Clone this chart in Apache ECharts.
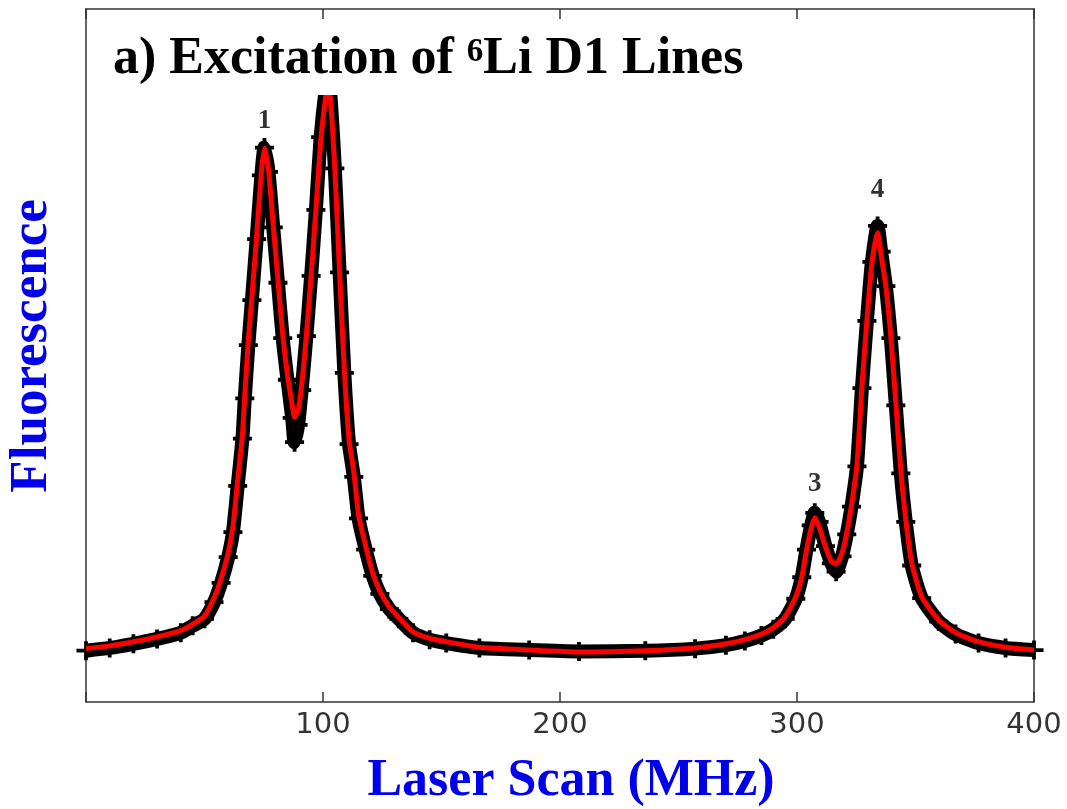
<!DOCTYPE html>
<html>
<head>
<meta charset="utf-8">
<script src="https://cdn.jsdelivr.net/npm/echarts@6/dist/echarts.min.js"></script>
<style>
  html, body { margin: 0; padding: 0; background: #fff; }
  #main { width: 1067px; height: 809px; }
</style>
</head>
<body>
<div id="main"></div>
<script>
// laser scan positions (MHz)
var scanX = [0, 10, 20, 30, 40, 45, 50, 54, 57, 60,
    62, 64, 66, 67, 68.5, 70, 72, 74, 75.3, 77,
    79, 81, 83, 85, 87, 88, 89.5, 91, 93, 95,
    97, 99, 101, 102, 103, 105, 107, 109, 111, 113,
    115, 118, 121, 124, 128, 132, 138, 145, 152, 166,
    187, 208, 236, 257, 270, 278, 285, 290, 295, 299.5,
    302, 304, 306, 307.5, 309.3, 312, 314.5, 316.5, 319, 321,
    323, 325.3, 327.4, 329.5, 331.6, 334, 335.5, 337.5, 339.6, 341.7,
    343.8, 345.9, 348.4, 352.6, 359.8, 366.9, 376.6, 388, 400];
// measured fluorescence (black points)
var dataY = [7.4, 7.8, 8.4, 9.1, 10.0, 11.0, 12.0, 14.4, 17.2, 20.9,
    24.5, 31.2, 38.0, 43.8, 51.5, 58.0, 66.8, 76.0, 80.0, 76.5,
    68.5, 60.5, 52.5, 46.5, 41.0, 37.5, 40.0, 45.0, 52.8, 61.5,
    71.0, 81.5, 88.0, 89.5, 88.0, 77.0, 62.0, 47.5, 37.2, 32.5,
    26.5, 22.0, 18.2, 15.6, 13.4, 12.0, 10.0, 9.0, 8.5, 7.8,
    7.5, 7.3, 7.4, 7.7, 8.2, 8.8, 9.6, 10.5, 12.0, 14.9,
    18.0, 22.0, 25.5, 27.3, 26.0, 22.5, 20.0, 18.8, 21.0, 24.2,
    28.2, 34.0, 45.3, 55.0, 63.5, 68.7, 65.0, 60.0, 52.5, 42.8,
    33.0, 26.0, 19.7, 15.0, 11.6, 9.8, 8.5, 7.8, 7.5];
// fitted curve (red)
var fitY = [7.7, 8.1, 8.7, 9.4, 10.3, 11.2, 12.4, 15.0, 17.8, 21.5,
    25.3, 32.0, 38.5, 44.3, 52.2, 58.4, 67.2, 76.5, 79.9, 76.8,
    68.8, 60.9, 53.0, 47.2, 42.9, 41.1, 42.1, 45.7, 53.0, 61.6,
    71.0, 80.8, 87.0, 89.0, 87.6, 76.8, 62.0, 47.9, 37.8, 33.2,
    27.0, 22.5, 18.6, 16.0, 13.7, 12.2, 10.1, 9.2, 8.7, 7.9,
    7.5, 7.2, 7.4, 7.8, 8.4, 9.0, 9.8, 10.7, 12.3, 15.2,
    18.0, 21.9, 25.1, 26.6, 25.3, 22.4, 20.3, 19.9, 21.5, 24.4,
    28.4, 34.2, 45.5, 55.1, 63.3, 67.7, 64.5, 59.9, 52.7, 43.1,
    33.5, 26.3, 20.1, 15.2, 11.8, 10.0, 8.7, 7.9, 7.5];
var peakNames = ['1', '3', '4'];
var peakX = [75.3, 307.5, 334];
var peakGap = [14, 20, 29];

var serif = '"Liberation Serif", "Times New Roman", serif';
var blue = '#0000ee';

var measured = scanX.map(function (x, i) { return [x, dataY[i]]; });
var fitted = scanX.map(function (x, i) { return [x, fitY[i]]; });
var peaks = peakX.map(function (x, i) {
    return {
        value: [x, fitY[scanX.indexOf(x)]],
        label: { formatter: peakNames[i], distance: peakGap[i] }
    };
});

var frameLine = { show: true, onZero: false, lineStyle: { color: '#333', width: 1.5 } };
var innerTick = { show: true, inside: true, length: 10, lineStyle: { color: '#333', width: 1.5 } };

echarts.init(document.getElementById('main')).setOption({
    animation: false,
    backgroundColor: '#fff',
    grid: { left: 86, right: 33, top: 9, bottom: 107 },
    xAxis: [
        {
            type: 'value', min: 0, max: 400, interval: 100, position: 'bottom',
            axisLine: frameLine,
            axisTick: innerTick,
            axisLabel: {
                margin: 9, color: '#333', fontSize: 29, fontFamily: '"DejaVu Sans", sans-serif',
                formatter: function (v) { return v === 0 ? '' : v; }
            },
            splitLine: { show: false }
        },
        {
            type: 'value', min: 0, max: 400, interval: 100, position: 'top',
            axisLine: frameLine,
            axisTick: innerTick,
            axisLabel: { show: false },
            splitLine: { show: false }
        }
    ],
    yAxis: [
        {
            type: 'value', min: 0, max: 100, position: 'left',
            axisLine: frameLine, axisTick: { show: false },
            axisLabel: { show: false }, splitLine: { show: false }
        },
        {
            type: 'value', min: 0, max: 100, position: 'right',
            axisLine: frameLine, axisTick: { show: false },
            axisLabel: { show: false }, splitLine: { show: false }
        }
    ],
    series: [
        {
            name: 'data',
            type: 'line',
            data: measured,
            smooth: 0.2,
            lineStyle: { color: '#000', width: 14 },
            symbol: 'path://M4,0H6V4H10V6H6V10H4V6H0V4H4Z',
            symbolSize: 19,
            showSymbol: true,
            showAllSymbol: true,
            itemStyle: { color: '#000' },
            z: 2
        },
        {
            name: 'fit',
            type: 'line',
            data: fitted,
            smooth: 0.2,
            showSymbol: false,
            lineStyle: { color: '#ff0000', width: 5 },
            z: 3
        },
        {
            name: 'peaks',
            type: 'scatter',
            data: peaks,
            symbolSize: 0,
            label: {
                show: true, position: 'top', color: '#000',
                fontSize: 27, fontWeight: 'bold', fontFamily: serif
            },
            z: 4
        }
    ],
    graphic: [
        {
            type: 'rect', z: 100,
            shape: { x: 100, y: 20, width: 670, height: 75 },
            style: { fill: '#fff' }
        },
        {
            type: 'text', z: 101, x: 113, y: 34,
            style: {
                text: '{m|a) Excitation of }{s|6}{m|Li D1 Lines}',
                verticalAlign: 'top',
                rich: {
                    m: { fontSize: 52, lineHeight: 52, fontWeight: 'bold', fontFamily: serif, fill: '#000', verticalAlign: 'top' },
                    s: { fontSize: 33, lineHeight: 33, fontWeight: 'bold', fontFamily: serif, fill: '#000', verticalAlign: 'top', padding: [2, 0, 0, 0] }
                }
            }
        },
        {
            type: 'text', z: 101, x: 571, y: 782,
            style: {
                text: 'Laser Scan (MHz)', align: 'center', verticalAlign: 'middle',
                fontSize: 52, fontWeight: 'bold', fontFamily: serif, fill: blue
            }
        },
        {
            type: 'text', z: 101, x: 32, y: 346, rotation: Math.PI / 2,
            style: {
                text: 'Fluorescence', align: 'center', verticalAlign: 'middle',
                fontSize: 53, fontWeight: 'bold', fontFamily: serif, fill: blue
            }
        }
    ]
});
</script>
</body>
</html>
